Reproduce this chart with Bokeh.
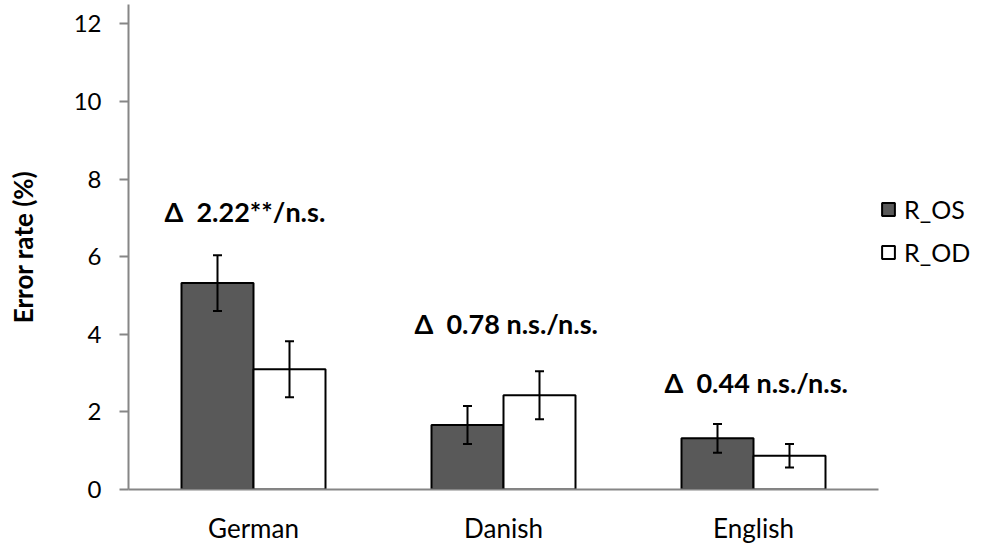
from bokeh.plotting import figure
from bokeh.models import (ColumnDataSource, Range1d, Whisker, TeeHead,
                          Legend, LegendItem, FixedTicker)
from bokeh.core.properties import value
from bokeh.embed import file_html
from bokeh.resources import INLINE

categories = ["German", "Danish", "English"]
r_os = [5.32, 1.66, 1.32]
r_os_err = [0.72, 0.49, 0.37]
r_od = [3.10, 2.43, 0.87]
r_od_err = [0.72, 0.62, 0.30]
labels = ["\u0394\u00a0 2.22**/n.s.", "\u0394\u00a0 0.78 n.s./n.s.", "\u0394\u00a0 0.44 n.s./n.s."]
label_y = [7.16, 4.28, 2.76]
series_names = ["R_OS", "R_OD"]
y_ticks = [0, 2, 4, 6, 8, 10, 12]

FONT = "Lato"
BAR_W = 0.288

centers = [i + 0.5 for i in range(len(categories))]
src = ColumnDataSource(dict(
    xc=centers,
    x_os=[c - BAR_W / 2 for c in centers],
    x_od=[c + BAR_W / 2 for c in centers],
    r_os=r_os, r_od=r_od,
    os_up=[v + e for v, e in zip(r_os, r_os_err)],
    os_lo=[v - e for v, e in zip(r_os, r_os_err)],
    od_up=[v + e for v, e in zip(r_od, r_od_err)],
    od_lo=[v - e for v, e in zip(r_od, r_od_err)],
    lab=labels, lab_y=label_y,
))

FRAME_W = 846
p = figure(x_range=Range1d(0, FRAME_W / 250.0),
           y_range=Range1d(0, 12.5),
           width=974, height=540, frame_width=FRAME_W, frame_height=485,
           min_border_left=128, min_border_right=0, min_border_top=4,
           min_border_bottom=51,
           output_backend="svg", toolbar_location=None)

p.outline_line_color = None
p.grid.grid_line_color = None
p.background_fill_color = "white"

os_r = p.vbar(x="x_os", top="r_os", width=BAR_W,
              source=src, fill_color="#595959", line_color="black", line_width=2)
od_r = p.vbar(x="x_od", top="r_od", width=BAR_W,
              source=src, fill_color="white", line_color="black", line_width=2)

for base, up, lo in [("x_os", "os_up", "os_lo"), ("x_od", "od_up", "od_lo")]:
    w = Whisker(base=base, upper=up, lower=lo, source=src,
                line_color="black", line_width=2, level="overlay",
                upper_head=TeeHead(size=9, line_color="black", line_width=2),
                lower_head=TeeHead(size=9, line_color="black", line_width=2))
    p.add_layout(w)

p.text(x="xc", y="lab_y", text="lab", source=src, x_offset=-89,
       text_font=value(FONT), text_font_style="bold", text_font_size="27px",
       text_align="left", text_baseline="middle", text_color="black")

legend = Legend(items=[LegendItem(label=series_names[0], renderers=[os_r]),
                       LegendItem(label=series_names[1], renderers=[od_r])],
                location=(752, 222), orientation="vertical",
                glyph_width=16, glyph_height=16, label_standoff=8, spacing=13,
                padding=0, margin=0, border_line_color=None,
                background_fill_alpha=0,
                label_text_font=FONT, label_text_font_size="25px", label_text_color="black")
p.add_layout(legend, "center")

ya = p.yaxis[0]
ya.ticker = FixedTicker(ticks=y_ticks)
ya.axis_line_color = "#868686"
ya.axis_line_width = 2
ya.major_tick_line_color = "#868686"
ya.major_tick_line_width = 2
ya.major_tick_out = 9
ya.major_tick_in = 0
ya.minor_tick_line_color = None
ya.major_label_standoff = 18
ya.major_label_text_font = FONT
ya.major_label_text_font_size = "24px"
ya.major_label_text_color = "black"
ya.axis_label = "Error rate (%)"
ya.axis_label_text_font = FONT
ya.axis_label_text_font_style = "bold"
ya.axis_label_text_font_size = "26px"
ya.axis_label_text_color = "black"
ya.axis_label_standoff = 32

xa = p.xaxis[0]
xa.bounds = (0, len(categories))
xa.ticker = FixedTicker(ticks=centers)
xa.major_label_overrides = {c: name for c, name in zip(centers, categories)}
xa.axis_line_color = "#868686"
xa.axis_line_width = 2
xa.major_tick_line_color = None
xa.major_tick_out = 0
xa.major_tick_in = 0
xa.minor_tick_line_color = None
xa.major_label_standoff = 22
xa.major_label_text_font = FONT
xa.major_label_text_font_size = "26px"
xa.major_label_text_color = "black"

open("out.html", "w").write(file_html(p, INLINE))
